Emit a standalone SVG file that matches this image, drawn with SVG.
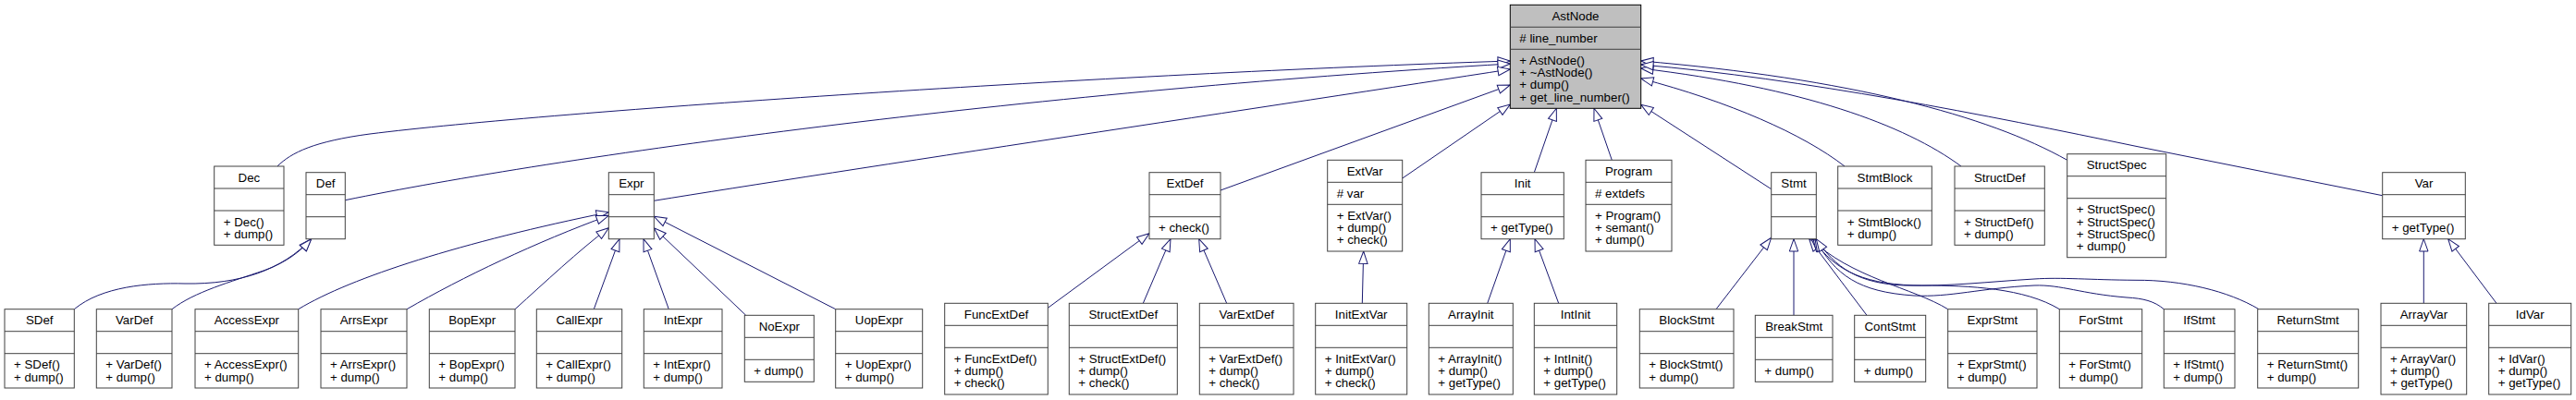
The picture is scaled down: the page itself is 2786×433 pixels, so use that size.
<svg xmlns="http://www.w3.org/2000/svg" width="2786" height="433" viewBox="0 0 2786 433">
<style>
.b{fill:#fff;stroke:#404040;stroke-width:1}
.r{fill:#bfbfbf;stroke:#000;stroke-width:1}
.s{stroke:#404040;stroke-width:1}
text{font-family:"Liberation Sans",Arial,Helvetica,sans-serif;font-size:13.3px;fill:#000}
.c{text-anchor:middle}
.e{fill:none;stroke:#191970;stroke-width:1;marker-end:url(#a)}
</style>
<defs>
<marker id="a" viewBox="-1 -6 16 12" markerWidth="16" markerHeight="12" refX="13.3" refY="0" orient="auto" markerUnits="userSpaceOnUse"><path d="M0,-4.7L13.3,0L0,4.7Z" fill="#fff" stroke="#191970" stroke-width="1"/></marker>
</defs>
<rect width="2786" height="433" fill="#fff"/>
<g id="edges">
<path class="e" d="M300,180 C315,165 340,153 400,145 C600,120 1200,80 1633.3,66"/>
<path class="e" d="M373.3,216.7 C600,170 1100,100 1633.3,69"/>
<path class="e" d="M707.3,217.3 C900,186 1400,111 1633.3,75"/>
<path class="e" d="M1320,206 L1633.3,92"/>
<path class="e" d="M1516.7,193 L1633.3,113"/>
<path class="e" d="M1659.3,186.7 L1683.3,117.3"/>
<path class="e" d="M1743.3,173.3 L1724,117.3"/>
<path class="e" d="M1915.7,204.7 L1774.7,113.3"/>
<path class="e" d="M1995,180 C1950,145 1870,110 1774.7,85"/>
<path class="e" d="M2121,180 C2060,135 1950,95 1774.7,74"/>
<path class="e" d="M2235.7,173.3 C2150,125 2000,85 1774.7,66"/>
<path class="e" d="M2576.7,211.7 L2310,158.3 C2150,125 1950,85 1774.7,70"/>
<path class="e" d="M80.3,334.7 C110,310 160,306 200,307 C260,308 305,292 336.7,258.7"/>
<path class="e" d="M186,334.7 C210,316 250,305 285,293 C310,284 325,272 336.7,258.7"/>
<path class="e" d="M322.7,334.7 C380,300 500,262 658.3,229.7"/>
<path class="e" d="M440,334.7 C500,300 580,262 658.3,233.3"/>
<path class="e" d="M557,334.7 C590,305 625,272 658.3,246.7"/>
<path class="e" d="M642.3,334.7 L670,258.7"/>
<path class="e" d="M723.3,334.7 L696,258.7"/>
<path class="e" d="M806.7,341.3 L707.3,246.7"/>
<path class="e" d="M903.7,334.7 L707.3,234.3"/>
<path class="e" d="M1133.3,333.3 L1243,252.7"/>
<path class="e" d="M1236.3,328.3 L1266,258.7"/>
<path class="e" d="M1326.7,328.3 L1296.7,258.7"/>
<path class="e" d="M1473.3,328.3 L1474.7,272"/>
<path class="e" d="M1608.7,328.3 L1633.3,258.7"/>
<path class="e" d="M1685.7,328.3 L1660,258.7"/>
<path class="e" d="M1856,334.7 L1915.7,257.3"/>
<path class="e" d="M1940,341.3 L1940,258.7"/>
<path class="e" d="M2019,341.3 L1956.7,258.7"/>
<path class="e" d="M2106.7,334.7 C2070,312 2000,300 1959,258.7"/>
<path class="e" d="M2227.3,334.7 C2190,312 2130,309 2080,309 C2020,309 1985,295 1961,258.7"/>
<path class="e" d="M2340.3,334.7 C2330,326 2318,323 2300,322 C2250,318 2230,308 2200,309 C2140,312 2110,322 2070,320 C2010,316 1985,298 1963,258.7"/>
<path class="e" d="M2443,334.7 C2410,315 2360,303 2310,303.3 C2260,303 2230,300 2200,302 C2150,305 2110,310 2060,309 C2010,307 1985,290 1964.3,258.7"/>
<path class="e" d="M2621.3,328.3 L2621.3,258.7"/>
<path class="e" d="M2700,328.3 L2647.7,258.7"/>
</g>
<g id="n-AstNode"><rect class="r" x="1633.3" y="5.3" width="141.4" height="112"/><line class="s" x1="1633.3" x2="1774.7" y1="29.3" y2="29.3" stroke="#000"/><line class="s" x1="1633.3" x2="1774.7" y1="53.3" y2="53.3" stroke="#000"/><text class="c" x="1704" y="21.8">AstNode</text><text x="1643.3" y="45.8"># line_number</text><text x="1643.3" y="69.8">+ AstNode()</text><text x="1643.3" y="83.1">+ ~AstNode()</text><text x="1643.3" y="96.4">+ dump()</text><text x="1643.3" y="109.7">+ get_line_number()</text></g>
<g id="n-Dec"><rect class="b" x="231.7" y="180" width="75.3" height="85.3"/><line class="s" x1="231.7" x2="307" y1="204" y2="204"/><line class="s" x1="231.7" x2="307" y1="228" y2="228"/><text class="c" x="269.4" y="196.5">Dec</text><text x="241.7" y="244.5">+ Dec()</text><text x="241.7" y="257.8">+ dump()</text></g>
<g id="n-Def"><rect class="b" x="331" y="186.7" width="42.3" height="72"/><line class="s" x1="331" x2="373.3" y1="210.7" y2="210.7"/><line class="s" x1="331" x2="373.3" y1="234.7" y2="234.7"/><text class="c" x="352.2" y="203.2">Def</text></g>
<g id="n-Expr"><rect class="b" x="658.3" y="186.7" width="49" height="72"/><line class="s" x1="658.3" x2="707.3" y1="210.7" y2="210.7"/><line class="s" x1="658.3" x2="707.3" y1="234.7" y2="234.7"/><text class="c" x="682.8" y="203.2">Expr</text></g>
<g id="n-ExtDef"><rect class="b" x="1243" y="186.7" width="77" height="72"/><line class="s" x1="1243" x2="1320" y1="210.7" y2="210.7"/><line class="s" x1="1243" x2="1320" y1="234.7" y2="234.7"/><text class="c" x="1281.5" y="203.2">ExtDef</text><text x="1253" y="251.2">+ check()</text></g>
<g id="n-ExtVar"><rect class="b" x="1435.7" y="173.3" width="81" height="98.7"/><line class="s" x1="1435.7" x2="1516.7" y1="197.3" y2="197.3"/><line class="s" x1="1435.7" x2="1516.7" y1="221.3" y2="221.3"/><text class="c" x="1476.2" y="189.8">ExtVar</text><text x="1445.7" y="213.8"># var</text><text x="1445.7" y="237.8">+ ExtVar()</text><text x="1445.7" y="251.1">+ dump()</text><text x="1445.7" y="264.4">+ check()</text></g>
<g id="n-Init"><rect class="b" x="1602" y="186.7" width="89.3" height="72"/><line class="s" x1="1602" x2="1691.3" y1="210.7" y2="210.7"/><line class="s" x1="1602" x2="1691.3" y1="234.7" y2="234.7"/><text class="c" x="1646.7" y="203.2">Init</text><text x="1612" y="251.2">+ getType()</text></g>
<g id="n-Program"><rect class="b" x="1715" y="173.3" width="93" height="98.7"/><line class="s" x1="1715" x2="1808" y1="197.3" y2="197.3"/><line class="s" x1="1715" x2="1808" y1="221.3" y2="221.3"/><text class="c" x="1761.5" y="189.8">Program</text><text x="1725" y="213.8"># extdefs</text><text x="1725" y="237.8">+ Program()</text><text x="1725" y="251.1">+ semant()</text><text x="1725" y="264.4">+ dump()</text></g>
<g id="n-Stmt"><rect class="b" x="1915.7" y="186.7" width="48.6" height="72"/><line class="s" x1="1915.7" x2="1964.3" y1="210.7" y2="210.7"/><line class="s" x1="1915.7" x2="1964.3" y1="234.7" y2="234.7"/><text class="c" x="1940" y="203.2">Stmt</text></g>
<g id="n-StmtBlock"><rect class="b" x="1987.7" y="180" width="101.6" height="85.3"/><line class="s" x1="1987.7" x2="2089.3" y1="204" y2="204"/><line class="s" x1="1987.7" x2="2089.3" y1="228" y2="228"/><text class="c" x="2038.5" y="196.5">StmtBlock</text><text x="1997.7" y="244.5">+ StmtBlock()</text><text x="1997.7" y="257.8">+ dump()</text></g>
<g id="n-StructDef"><rect class="b" x="2114" y="180" width="97.3" height="85.3"/><line class="s" x1="2114" x2="2211.3" y1="204" y2="204"/><line class="s" x1="2114" x2="2211.3" y1="228" y2="228"/><text class="c" x="2162.7" y="196.5">StructDef</text><text x="2124" y="244.5">+ StructDef()</text><text x="2124" y="257.8">+ dump()</text></g>
<g id="n-StructSpec"><rect class="b" x="2235.7" y="166.7" width="107" height="112"/><line class="s" x1="2235.7" x2="2342.7" y1="190.7" y2="190.7"/><line class="s" x1="2235.7" x2="2342.7" y1="214.7" y2="214.7"/><text class="c" x="2289.2" y="183.2">StructSpec</text><text x="2245.7" y="231.2">+ StructSpec()</text><text x="2245.7" y="244.5">+ StructSpec()</text><text x="2245.7" y="257.8">+ StructSpec()</text><text x="2245.7" y="271.1">+ dump()</text></g>
<g id="n-Var"><rect class="b" x="2576.7" y="186.7" width="89.6" height="72"/><line class="s" x1="2576.7" x2="2666.3" y1="210.7" y2="210.7"/><line class="s" x1="2576.7" x2="2666.3" y1="234.7" y2="234.7"/><text class="c" x="2621.5" y="203.2">Var</text><text x="2586.7" y="251.2">+ getType()</text></g>
<g id="n-SDef"><rect class="b" x="5" y="334.7" width="75.3" height="85.3"/><line class="s" x1="5" x2="80.3" y1="358.7" y2="358.7"/><line class="s" x1="5" x2="80.3" y1="382.7" y2="382.7"/><text class="c" x="42.7" y="351.2">SDef</text><text x="15" y="399.2">+ SDef()</text><text x="15" y="412.5">+ dump()</text></g>
<g id="n-VarDef"><rect class="b" x="104.3" y="334.7" width="81.7" height="85.3"/><line class="s" x1="104.3" x2="186" y1="358.7" y2="358.7"/><line class="s" x1="104.3" x2="186" y1="382.7" y2="382.7"/><text class="c" x="145.2" y="351.2">VarDef</text><text x="114.3" y="399.2">+ VarDef()</text><text x="114.3" y="412.5">+ dump()</text></g>
<g id="n-AccessExpr"><rect class="b" x="211" y="334.7" width="111.7" height="85.3"/><line class="s" x1="211" x2="322.7" y1="358.7" y2="358.7"/><line class="s" x1="211" x2="322.7" y1="382.7" y2="382.7"/><text class="c" x="266.9" y="351.2">AccessExpr</text><text x="221" y="399.2">+ AccessExpr()</text><text x="221" y="412.5">+ dump()</text></g>
<g id="n-ArrsExpr"><rect class="b" x="347" y="334.7" width="93" height="85.3"/><line class="s" x1="347" x2="440" y1="358.7" y2="358.7"/><line class="s" x1="347" x2="440" y1="382.7" y2="382.7"/><text class="c" x="393.5" y="351.2">ArrsExpr</text><text x="357" y="399.2">+ ArrsExpr()</text><text x="357" y="412.5">+ dump()</text></g>
<g id="n-BopExpr"><rect class="b" x="464.3" y="334.7" width="92.7" height="85.3"/><line class="s" x1="464.3" x2="557" y1="358.7" y2="358.7"/><line class="s" x1="464.3" x2="557" y1="382.7" y2="382.7"/><text class="c" x="510.7" y="351.2">BopExpr</text><text x="474.3" y="399.2">+ BopExpr()</text><text x="474.3" y="412.5">+ dump()</text></g>
<g id="n-CallExpr"><rect class="b" x="580.3" y="334.7" width="92.4" height="85.3"/><line class="s" x1="580.3" x2="672.7" y1="358.7" y2="358.7"/><line class="s" x1="580.3" x2="672.7" y1="382.7" y2="382.7"/><text class="c" x="626.5" y="351.2">CallExpr</text><text x="590.3" y="399.2">+ CallExpr()</text><text x="590.3" y="412.5">+ dump()</text></g>
<g id="n-IntExpr"><rect class="b" x="696.3" y="334.7" width="84.7" height="85.3"/><line class="s" x1="696.3" x2="781" y1="358.7" y2="358.7"/><line class="s" x1="696.3" x2="781" y1="382.7" y2="382.7"/><text class="c" x="738.7" y="351.2">IntExpr</text><text x="706.3" y="399.2">+ IntExpr()</text><text x="706.3" y="412.5">+ dump()</text></g>
<g id="n-NoExpr"><rect class="b" x="805.3" y="341.3" width="75" height="72"/><line class="s" x1="805.3" x2="880.3" y1="365.3" y2="365.3"/><line class="s" x1="805.3" x2="880.3" y1="389.3" y2="389.3"/><text class="c" x="842.8" y="357.8">NoExpr</text><text x="815.3" y="405.8">+ dump()</text></g>
<g id="n-UopExpr"><rect class="b" x="903.7" y="334.7" width="94" height="85.3"/><line class="s" x1="903.7" x2="997.7" y1="358.7" y2="358.7"/><line class="s" x1="903.7" x2="997.7" y1="382.7" y2="382.7"/><text class="c" x="950.7" y="351.2">UopExpr</text><text x="913.7" y="399.2">+ UopExpr()</text><text x="913.7" y="412.5">+ dump()</text></g>
<g id="n-FuncExtDef"><rect class="b" x="1021.7" y="328.3" width="111.6" height="98.7"/><line class="s" x1="1021.7" x2="1133.3" y1="352.3" y2="352.3"/><line class="s" x1="1021.7" x2="1133.3" y1="376.3" y2="376.3"/><text class="c" x="1077.5" y="344.8">FuncExtDef</text><text x="1031.7" y="392.8">+ FuncExtDef()</text><text x="1031.7" y="406.1">+ dump()</text><text x="1031.7" y="419.4">+ check()</text></g>
<g id="n-StructExtDef"><rect class="b" x="1156.3" y="328.3" width="117" height="98.7"/><line class="s" x1="1156.3" x2="1273.3" y1="352.3" y2="352.3"/><line class="s" x1="1156.3" x2="1273.3" y1="376.3" y2="376.3"/><text class="c" x="1214.8" y="344.8">StructExtDef</text><text x="1166.3" y="392.8">+ StructExtDef()</text><text x="1166.3" y="406.1">+ dump()</text><text x="1166.3" y="419.4">+ check()</text></g>
<g id="n-VarExtDef"><rect class="b" x="1297.3" y="328.3" width="101.7" height="98.7"/><line class="s" x1="1297.3" x2="1399" y1="352.3" y2="352.3"/><line class="s" x1="1297.3" x2="1399" y1="376.3" y2="376.3"/><text class="c" x="1348.2" y="344.8">VarExtDef</text><text x="1307.3" y="392.8">+ VarExtDef()</text><text x="1307.3" y="406.1">+ dump()</text><text x="1307.3" y="419.4">+ check()</text></g>
<g id="n-InitExtVar"><rect class="b" x="1422.7" y="328.3" width="99" height="98.7"/><line class="s" x1="1422.7" x2="1521.7" y1="352.3" y2="352.3"/><line class="s" x1="1422.7" x2="1521.7" y1="376.3" y2="376.3"/><text class="c" x="1472.2" y="344.8">InitExtVar</text><text x="1432.7" y="392.8">+ InitExtVar()</text><text x="1432.7" y="406.1">+ dump()</text><text x="1432.7" y="419.4">+ check()</text></g>
<g id="n-ArrayInit"><rect class="b" x="1545.3" y="328.3" width="91" height="98.7"/><line class="s" x1="1545.3" x2="1636.3" y1="352.3" y2="352.3"/><line class="s" x1="1545.3" x2="1636.3" y1="376.3" y2="376.3"/><text class="c" x="1590.8" y="344.8">ArrayInit</text><text x="1555.3" y="392.8">+ ArrayInit()</text><text x="1555.3" y="406.1">+ dump()</text><text x="1555.3" y="419.4">+ getType()</text></g>
<g id="n-IntInit"><rect class="b" x="1659.3" y="328.3" width="89.4" height="98.7"/><line class="s" x1="1659.3" x2="1748.7" y1="352.3" y2="352.3"/><line class="s" x1="1659.3" x2="1748.7" y1="376.3" y2="376.3"/><text class="c" x="1704" y="344.8">IntInit</text><text x="1669.3" y="392.8">+ IntInit()</text><text x="1669.3" y="406.1">+ dump()</text><text x="1669.3" y="419.4">+ getType()</text></g>
<g id="n-BlockStmt"><rect class="b" x="1773.3" y="334.7" width="101.7" height="85.3"/><line class="s" x1="1773.3" x2="1875" y1="358.7" y2="358.7"/><line class="s" x1="1773.3" x2="1875" y1="382.7" y2="382.7"/><text class="c" x="1824.2" y="351.2">BlockStmt</text><text x="1783.3" y="399.2">+ BlockStmt()</text><text x="1783.3" y="412.5">+ dump()</text></g>
<g id="n-BreakStmt"><rect class="b" x="1898.3" y="341.3" width="83.7" height="72"/><line class="s" x1="1898.3" x2="1982" y1="365.3" y2="365.3"/><line class="s" x1="1898.3" x2="1982" y1="389.3" y2="389.3"/><text class="c" x="1940.2" y="357.8">BreakStmt</text><text x="1908.3" y="405.8">+ dump()</text></g>
<g id="n-ContStmt"><rect class="b" x="2005.7" y="341.3" width="77" height="72"/><line class="s" x1="2005.7" x2="2082.7" y1="365.3" y2="365.3"/><line class="s" x1="2005.7" x2="2082.7" y1="389.3" y2="389.3"/><text class="c" x="2044.2" y="357.8">ContStmt</text><text x="2015.7" y="405.8">+ dump()</text></g>
<g id="n-ExprStmt"><rect class="b" x="2106.7" y="334.7" width="96.3" height="85.3"/><line class="s" x1="2106.7" x2="2203" y1="358.7" y2="358.7"/><line class="s" x1="2106.7" x2="2203" y1="382.7" y2="382.7"/><text class="c" x="2154.9" y="351.2">ExprStmt</text><text x="2116.7" y="399.2">+ ExprStmt()</text><text x="2116.7" y="412.5">+ dump()</text></g>
<g id="n-ForStmt"><rect class="b" x="2227.3" y="334.7" width="89.4" height="85.3"/><line class="s" x1="2227.3" x2="2316.7" y1="358.7" y2="358.7"/><line class="s" x1="2227.3" x2="2316.7" y1="382.7" y2="382.7"/><text class="c" x="2272" y="351.2">ForStmt</text><text x="2237.3" y="399.2">+ ForStmt()</text><text x="2237.3" y="412.5">+ dump()</text></g>
<g id="n-IfStmt"><rect class="b" x="2340.3" y="334.7" width="76.7" height="85.3"/><line class="s" x1="2340.3" x2="2417" y1="358.7" y2="358.7"/><line class="s" x1="2340.3" x2="2417" y1="382.7" y2="382.7"/><text class="c" x="2378.7" y="351.2">IfStmt</text><text x="2350.3" y="399.2">+ IfStmt()</text><text x="2350.3" y="412.5">+ dump()</text></g>
<g id="n-ReturnStmt"><rect class="b" x="2441.7" y="334.7" width="109" height="85.3"/><line class="s" x1="2441.7" x2="2550.7" y1="358.7" y2="358.7"/><line class="s" x1="2441.7" x2="2550.7" y1="382.7" y2="382.7"/><text class="c" x="2496.2" y="351.2">ReturnStmt</text><text x="2451.7" y="399.2">+ ReturnStmt()</text><text x="2451.7" y="412.5">+ dump()</text></g>
<g id="n-ArrayVar"><rect class="b" x="2575" y="328.3" width="92.7" height="98.7"/><line class="s" x1="2575" x2="2667.7" y1="352.3" y2="352.3"/><line class="s" x1="2575" x2="2667.7" y1="376.3" y2="376.3"/><text class="c" x="2621.4" y="344.8">ArrayVar</text><text x="2585" y="392.8">+ ArrayVar()</text><text x="2585" y="406.1">+ dump()</text><text x="2585" y="419.4">+ getType()</text></g>
<g id="n-IdVar"><rect class="b" x="2691.7" y="328.3" width="89" height="98.7"/><line class="s" x1="2691.7" x2="2780.7" y1="352.3" y2="352.3"/><line class="s" x1="2691.7" x2="2780.7" y1="376.3" y2="376.3"/><text class="c" x="2736.2" y="344.8">IdVar</text><text x="2701.7" y="392.8">+ IdVar()</text><text x="2701.7" y="406.1">+ dump()</text><text x="2701.7" y="419.4">+ getType()</text></g>
</svg>
